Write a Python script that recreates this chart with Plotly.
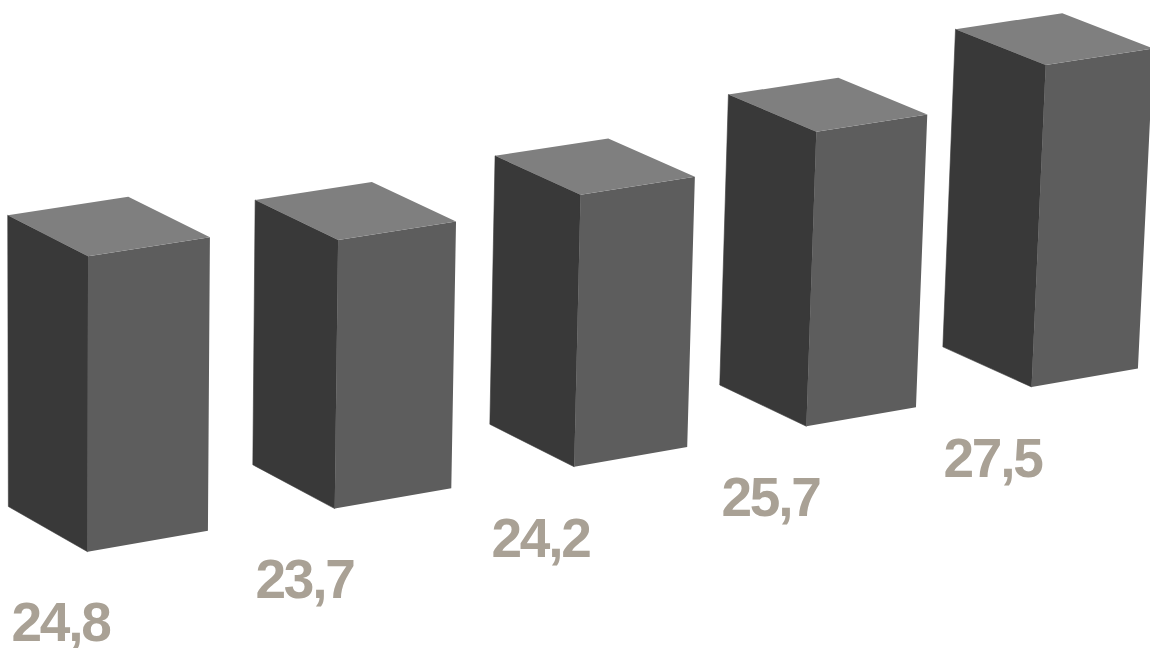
import numpy as np
import plotly.graph_objects as go

value_labels = ["24,8", "23,7", "24,2", "25,7", "27,5"]
# Drawn bar heights (one bar width = 1 unit)
bar_heights = [2.2138, 2.0424, 2.0984, 2.2993, 2.5447]

# Camera of the pseudo-3D chart
EYE = np.array([-31.8354, -49.7347, 18.9845])
YAW, PITCH, ROLL = 0.5172, -0.3661, 0.0046
FOCAL, CX, CY = 8314.6, 158.08, 919.72
SPACING, DEPTH = 2.0711, 1.1943

COL_LEFT, COL_RIGHT, COL_TOP = "#393939", "#5d5d5d", "#7f7f7f"
COL_TEXT = "#a9a195"

F = np.array([np.sin(YAW)*np.cos(PITCH), np.cos(YAW)*np.cos(PITCH), np.sin(PITCH)])
R0 = np.cross(F, [0, 0, 1]); R0 = R0/np.linalg.norm(R0)
U0 = np.cross(R0, F)
R = np.cos(ROLL)*R0 + np.sin(ROLL)*U0
U = -np.sin(ROLL)*R0 + np.cos(ROLL)*U0


def project(pt):
    d = np.array(pt, float) - EYE
    z = d @ F
    return CX + FOCAL*(d @ R)/z, CY - FOCAL*(d @ U)/z


def polys(faces):
    xs, ys = [], []
    for face in faces:
        pts = [project(p) for p in face]
        pts.append(pts[0])
        xs += [p[0] for p in pts] + [None]
        ys += [p[1] for p in pts] + [None]
    return xs, ys


left, right, top, anchors = [], [], [], []
for i, h in enumerate(bar_heights):
    x0 = (i - 2)*SPACING
    x1 = x0 + 1
    left.append([(x0, 0, 0), (x0, DEPTH, 0), (x0, DEPTH, h), (x0, 0, h)])
    right.append([(x0, 0, 0), (x1, 0, 0), (x1, 0, h), (x0, 0, h)])
    top.append([(x0, 0, h), (x1, 0, h), (x1, DEPTH, h), (x0, DEPTH, h)])
    anchors.append(project((x0, DEPTH, 0)))

fig = go.Figure()
for faces, col, lw in [(left, COL_LEFT, 0.6), (right, COL_RIGHT, 0), (top, COL_TOP, 0)]:
    xs, ys = polys(faces)
    fig.add_trace(go.Scatter(x=xs, y=ys, mode="lines", fill="toself", fillcolor=col,
                             line=dict(width=lw, color=col), hoverinfo="skip", showlegend=False))

for i, ((ax, ay), txt) in enumerate(zip(anchors, value_labels)):
    fig.add_annotation(x=ax, y=ay, text=txt, showarrow=False, xanchor="left", yanchor="middle",
                       xshift=-3.7 - 0.5*i, yshift=-(115.5 - 1.1*i),
                       font=dict(family="Liberation Sans", size=55, color=COL_TEXT, weight="bold"))

fig.update_layout(width=1150, height=648, margin=dict(l=0, r=0, t=0, b=0),
                  paper_bgcolor="white", plot_bgcolor="white", showlegend=False,
                  xaxis=dict(visible=False, range=[0, 1150], fixedrange=True),
                  yaxis=dict(visible=False, range=[648, 0], fixedrange=True))
fig.write_html("out.html",
               post_script="document.body.style.margin='0';"
                           "document.querySelectorAll('.annotation-text').forEach(function(t){t.style.letterSpacing='-2.2px';});",
               config={"displayModeBar": False})
